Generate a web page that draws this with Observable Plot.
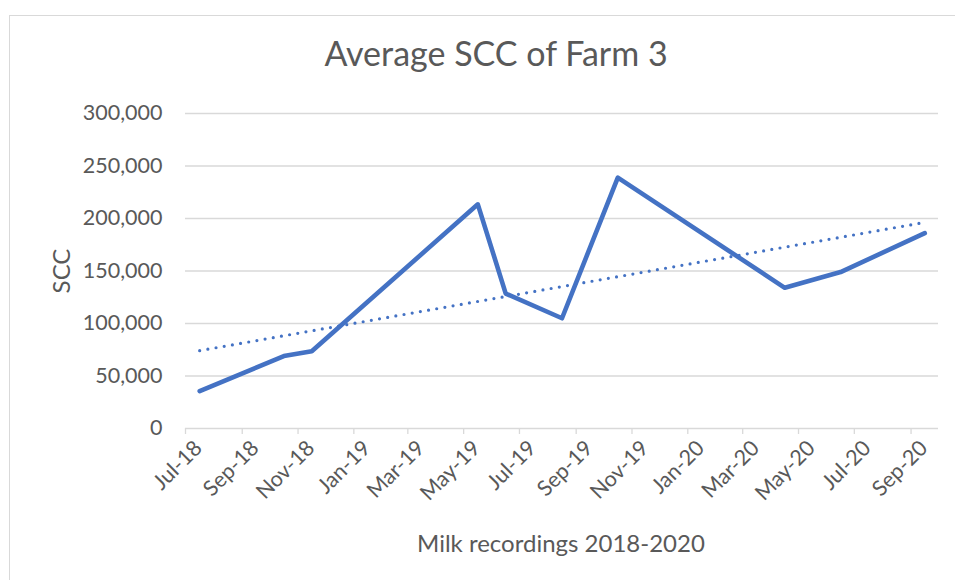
<!DOCTYPE html>
<html>
<head>
<meta charset="utf-8">
<script src="https://cdn.jsdelivr.net/npm/d3@7"></script>
<script src="https://cdn.jsdelivr.net/npm/@observablehq/plot@0.6"></script>
<style>
  html, body { margin: 0; padding: 0; background: #fff; }
  #chart { width: 955px; height: 580px; overflow: hidden; }
</style>
</head>
<body>
<div id="chart"></div>
<script>
// Monthly milk recordings (year-month) and average somatic cell count
const months = ["2018-07", "2018-10", "2018-11", "2019-05", "2019-06", "2019-08", "2019-10", "2020-04", "2020-06", "2020-09"];
const scc = [35500, 69000, 73500, 213500, 128500, 105000, 239000, 134000, 149000, 186000];

// Axis ticks
const xTickLabels = ["Jul-18", "Sep-18", "Nov-18", "Jan-19", "Mar-19", "May-19", "Jul-19", "Sep-19", "Nov-19", "Jan-20", "Mar-20", "May-20", "Jul-20", "Sep-20"];
const yTicks = [0, 50000, 100000, 150000, 200000, 250000, 300000];

const titleText = "Average SCC of Farm 3";
const xTitle = "Milk recordings 2018-2020";
const yTitle = "SCC";

const FONT = "Lato, 'Open Sans', sans-serif";
const TEXT = "#595959";
const GRID = "#d9d9d9";
const BLUE = "#4472C4";

// Each recording sits in the middle of its month
const parseMonth = d3.utcParse("%Y-%m");
const midMonth = (start) => new Date((+start + +d3.utcMonth.offset(start, 1)) / 2);
const data = months.map((m, i) => ({date: midMonth(parseMonth(m)), value: scc[i]}));

// Tick dates come from the tick labels
const parseTick = d3.utcParse("%b-%y");
const tickDates = xTickLabels.map(parseTick);
const fmtTick = d3.utcFormat("%b-%y");

// Axis spans whole months: first tick month to the end of the last recording month
const xDomain = [tickDates[0], d3.utcMonth.offset(parseMonth(months[months.length - 1]), 1)];

// Least-squares linear trend over the recordings
const xs = data.map(d => +d.date), ys = data.map(d => d.value);
const mx = d3.mean(xs), my = d3.mean(ys);
const slope = d3.sum(xs, (x, i) => (x - mx) * (ys[i] - my)) / d3.sum(xs, x => (x - mx) ** 2);
const trend = d3.extent(xs).map(x => ({date: new Date(x), value: my + slope * (x - mx)}));

const chart = Plot.plot({
  width: 955,
  height: 580,
  marginLeft: 185,
  marginRight: 17,
  marginTop: 113,
  marginBottom: 152,
  style: {fontFamily: FONT, color: TEXT, background: "#fff", overflow: "visible"},
  x: {type: "utc", domain: xDomain},
  y: {domain: [0, 300000]},
  marks: [
    Plot.gridY(yTicks.filter(t => t > 0), {stroke: GRID, strokeOpacity: 1, strokeWidth: 1.3}),
    Plot.ruleY([0], {stroke: GRID, strokeWidth: 1.3}),
    Plot.axisY(yTicks, {
      tickSize: 0, tickPadding: 23, fontSize: 21.5, fill: TEXT,
      tickFormat: d3.format(","), label: null
    }),
    // tick marks below the baseline
    Plot.axisX(tickDates, {
      tickSize: 6, stroke: GRID, strokeWidth: 1.3, tickFormat: () => "", label: null
    }),
    // rotated month labels
    Plot.axisX(tickDates, {
      tickSize: 0, tickPadding: 16, dx: 13, tickRotate: -45, fontSize: 21.5,
      fill: TEXT, tickFormat: fmtTick, label: null
    }),
    Plot.line(trend, {
      x: "date", y: "value", stroke: BLUE, strokeWidth: 3.2,
      strokeDasharray: "0 8.3", strokeLinecap: "round"
    }),
    Plot.line(data, {
      x: "date", y: "value", stroke: BLUE, strokeWidth: 4.6,
      strokeLinecap: "round", strokeLinejoin: "round"
    })
  ]
});

// Chart frame, title and axis titles
const svg = d3.select(chart);
svg.insert("rect", ":first-child")
  .attr("x", 9.5).attr("y", 15.5).attr("width", 1000).attr("height", 700)
  .attr("fill", "#fff").attr("stroke", GRID).attr("stroke-width", 1);

svg.append("text")
  .attr("x", 496).attr("y", 66)
  .attr("text-anchor", "middle").attr("fill", TEXT)
  .style("font-family", FONT).style("font-size", "34px")
  .text(titleText);

svg.append("text")
  .attr("x", 561).attr("y", 552)
  .attr("text-anchor", "middle").attr("fill", TEXT)
  .style("font-family", FONT).style("font-size", "24px")
  .text(xTitle);

svg.append("text")
  .attr("transform", "translate(70,271) rotate(-90)")
  .attr("text-anchor", "middle").attr("fill", TEXT)
  .style("font-family", FONT).style("font-size", "24px")
  .text(yTitle);

document.getElementById("chart").appendChild(chart);
</script>
</body>
</html>
